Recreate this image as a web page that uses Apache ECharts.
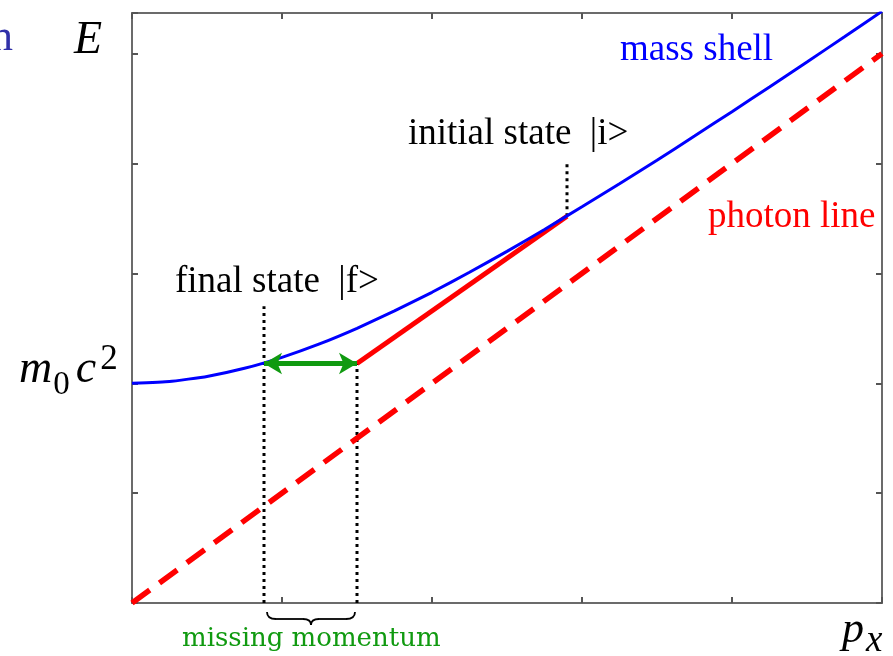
<!DOCTYPE html>
<html>
<head>
<meta charset="utf-8">
<script src="https://cdn.jsdelivr.net/npm/echarts@6/dist/echarts.min.js"></script>
<style>
  html, body { margin: 0; padding: 0; background: #fff; }
  #chart { width: 893px; height: 656px; }
</style>
</head>
<body>
<div id="chart"></div>
<script>
// mass shell (p, E)
const shellP = [0, 0.25, 0.5, 0.75, 1, 1.25, 1.5, 1.75, 2, 2.25, 2.5, 2.75, 3, 3.25, 3.5, 3.75, 4, 4.25, 4.5, 4.75, 5];
const shellE = [2.0, 2.016, 2.062, 2.136, 2.236, 2.358, 2.5, 2.658, 2.828, 3.01, 3.2, 3.4, 3.606, 3.816, 4.03, 4.25, 4.472, 4.697, 4.924, 5.154, 5.385];
// photon line E = p
const photonP = [0, 5];
const photonE = [0, 5];
// emitted photon segment, initial -> final
const emitP = [1.5, 2.9];
const emitE = [2.18, 3.52];
// states
const finalState = [0.88, 2.18];
const initialState = [2.9, 3.52];
const finalDotTop = 2.7;
const initialDotTop = 4.03;
const xTicks = [0, 1, 2, 3, 4, 5];

const zip = (a, b) => a.map((v, i) => [v, b[i]]);

const chart = echarts.init(document.getElementById('chart'));

const axisStyle = { show: true, onZero: false, lineStyle: { color: '#6b6b6b', width: 2 } };
const tickStyle = { show: true, inside: true, length: 6, lineStyle: { color: '#555', width: 2 } };

const dotted = { color: '#000', width: 3, type: [3, 4] };

const serif = '"Liberation Serif", "Times New Roman", serif';

const option = {
  animation: false,
  backgroundColor: '#fff',
  grid: { left: 132, right: 11, top: 13, bottom: 53 },
  xAxis: [
    { type: 'value', min: xTicks[0], max: xTicks[xTicks.length - 1], interval: 1, position: 'bottom',
      axisLine: axisStyle, axisTick: tickStyle, axisLabel: { show: false }, splitLine: { show: false } },
    { type: 'value', min: xTicks[0], max: xTicks[xTicks.length - 1], interval: 1, position: 'top',
      axisLine: axisStyle, axisTick: tickStyle, axisLabel: { show: false }, splitLine: { show: false } }
  ],
  yAxis: [
    { type: 'value', min: 0, max: 5.37, interval: 1, position: 'left',
      axisLine: axisStyle, axisTick: tickStyle, axisLabel: { show: false }, splitLine: { show: false } },
    { type: 'value', min: 0, max: 5.37, interval: 1, position: 'right',
      axisLine: axisStyle, axisTick: tickStyle, axisLabel: { show: false }, splitLine: { show: false } }
  ],
  series: [
    {
      name: 'photon line', type: 'line', data: zip(photonP, photonE), symbol: 'none',
      lineStyle: { color: '#ff0000', width: 5.5, type: [22, 12] }, z: 2
    },
    {
      name: 'final dots', type: 'line', data: [[finalState[0], 0], [finalState[0], finalDotTop]], symbol: 'none',
      lineStyle: dotted, z: 1
    },
    {
      name: 'emit dots', type: 'line', data: [[emitP[0], 0], [emitP[0], emitE[0]]], symbol: 'none',
      lineStyle: dotted, z: 1
    },
    {
      name: 'initial dots', type: 'line', data: [[initialState[0], initialState[1]], [initialState[0], initialDotTop]], symbol: 'none',
      lineStyle: dotted, z: 1
    },
    {
      name: 'emitted', type: 'line', data: zip(emitP, emitE), symbol: 'none',
      lineStyle: { color: '#ff0000', width: 5 }, z: 3
    },
    {
      name: 'mass shell', type: 'line', data: zip(shellP, shellE), symbol: 'none', smooth: 0.12,
      lineStyle: { color: '#0000ff', width: 3 }, z: 4,
      markLine: {
        silent: true, symbol: ['arrow', 'arrow'], symbolSize: [16, 18],
        label: { show: false },
        lineStyle: { color: '#109a10', width: 5, type: 'solid' },
        data: [[{ coord: finalState }, { coord: [emitP[0], emitE[0]] }]]
      }
    }
  ]
};
chart.setOption(option);

// brace under the missing momentum
const a = chart.convertToPixel({ xAxisIndex: 0, yAxisIndex: 0 }, [finalState[0], 0]);
const b = chart.convertToPixel({ xAxisIndex: 0, yAxisIndex: 0 }, [emitP[0], 0]);
const x1 = a[0] + 3, x2 = b[0] - 2, xm = (x1 + x2) / 2;
const y0 = 612, y1 = 619, y2 = 625;
const braceStyle = { fill: 'none', stroke: '#000', lineWidth: 1.8 };
const braceParts = [
  { type: 'bezierCurve', shape: { x1: x1, y1: y0, x2: x1 + 9, y2: y1, cpx1: x1, cpy1: y1 } },
  { type: 'line', shape: { x1: x1 + 9, y1: y1, x2: xm - 8, y2: y1 } },
  { type: 'bezierCurve', shape: { x1: xm - 8, y1: y1, x2: xm, y2: y2, cpx1: xm, cpy1: y1 } },
  { type: 'bezierCurve', shape: { x1: xm, y1: y2, x2: xm + 8, y2: y1, cpx1: xm, cpy1: y1 } },
  { type: 'line', shape: { x1: xm + 8, y1: y1, x2: x2 - 9, y2: y1 } },
  { type: 'bezierCurve', shape: { x1: x2 - 9, y1: y1, x2: x2, y2: y0, cpx1: x2, cpy1: y1 } }
].map(p => Object.assign(p, { style: braceStyle }));

function label(text, x, y, font, fill, align) {
  return { type: 'text', x: x, y: y,
    style: { text: text, font: font, fill: fill, align: align || 'left', verticalAlign: 'middle' } };
}

chart.setOption({
  graphic: braceParts.concat([
    label('n', 13, 38, '44px ' + serif, '#3030a8', 'right'),
    label('E', 74, 41, 'italic 46px ' + serif, '#000'),
    { type: 'text', x: 19, y: 370, style: {
        text: '{i|m}{s|0}{i|c}{p|2}', verticalAlign: 'middle', rich: {
          i: { font: 'italic 46px ' + serif, fill: '#000' },
          s: { font: '33px ' + serif, fill: '#000', padding: [30, 6, 0, 1] },
          p: { font: '35px ' + serif, fill: '#000', padding: [0, 0, 20, 4] }
        } } },
    { type: 'text', x: 842, y: 630, style: {
        text: '{i|p}{s|x}', verticalAlign: 'middle', rich: {
          i: { font: 'italic 44px ' + serif, fill: '#000' },
          s: { font: 'italic 37px ' + serif, fill: '#000', padding: [23, 0, 0, 2] }
        } } },
    label('mass shell', 620, 50, '37px ' + serif, '#0000ff'),
    label('photon line', 708, 217, '37px ' + serif, '#ff0000'),
    label('initial state  |i>', 408, 134, '37px ' + serif, '#000'),
    label('final state  |f>', 175, 282, '37px ' + serif, '#000'),
    label('missing momentum', 182, 639, '26px "DejaVu Serif", serif', '#109a10')
  ])
});
</script>
</body>
</html>
